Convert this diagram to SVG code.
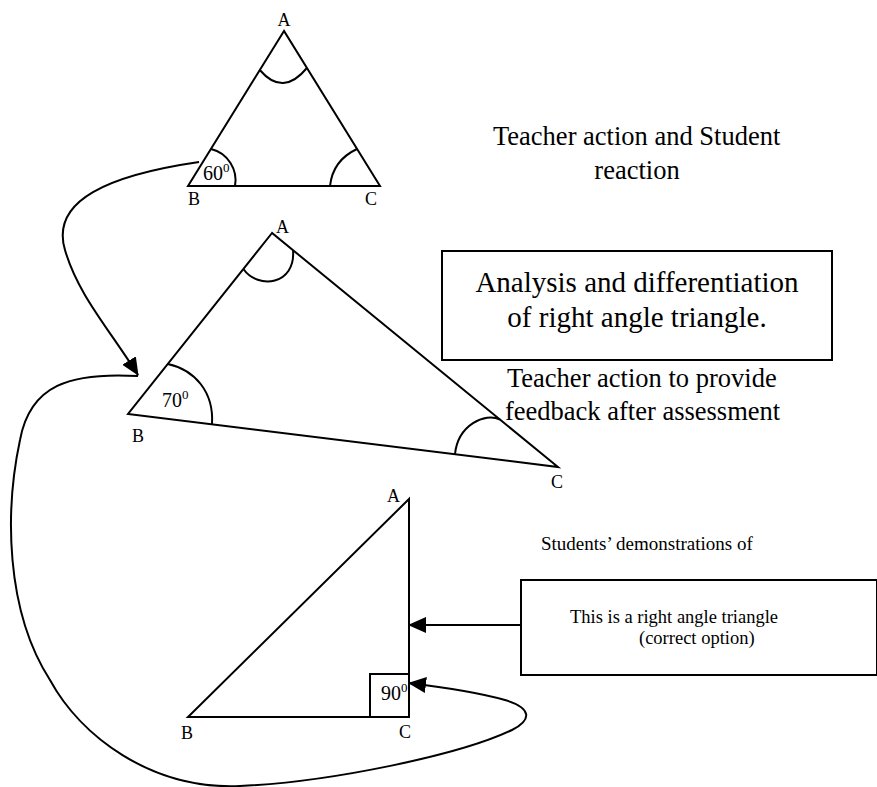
<svg xmlns="http://www.w3.org/2000/svg" width="877" height="787" viewBox="0 0 877 787">
<style>
  .ln{fill:none;stroke:#000;stroke-width:2;stroke-linejoin:miter}
  .arc{fill:none;stroke:#000;stroke-width:2}
  .t{font-family:"Liberation Serif","Times New Roman",serif;fill:#000}
  .lbl{font-size:18px}
  .ang{font-size:20px}
  .sup{font-size:13px}
  .big{font-size:29px}
  .mid{font-size:26.5px}
  .sm{font-size:19px}
  .bx{font-size:18.5px}
  .box{fill:#fff;stroke:#000;stroke-width:2}
  .con{fill:none;stroke:#000;stroke-width:2}
</style>
<defs>
  <marker id="ah" markerUnits="userSpaceOnUse" markerWidth="18" markerHeight="16" viewBox="0 0 18 16" refX="17" refY="8" orient="auto">
    <path d="M0,0 L18,8 L0,16 Z" fill="#000"/>
  </marker>
</defs>
<rect width="877" height="787" fill="#fff"/>

<g id="triangle1">
  <polygon class="ln" points="284,31 188,186 380,186"/>
  <path class="arc" d="M259.8,70 Q283,97 306.9,68"/>
  <path class="arc" d="M211,149 C228,153 238,170 235,186"/>
  <path class="arc" d="M330,186 C332,168 342,156 357,149"/>
  <text class="t lbl" x="284" y="26" text-anchor="middle">A</text>
  <text class="t lbl" x="188" y="205">B</text>
  <text class="t lbl" x="365" y="205">C</text>
  <text class="t ang" x="203" y="180">60<tspan class="sup" dy="-8">0</tspan></text>
</g>

<g id="triangle2">
  <polygon class="ln" points="272,233 128,414 558,467"/>
  <path class="arc" d="M243.4,269 C258,290 296,285 293,250"/>
  <path class="arc" d="M167.8,364 C195,370 214,392 212,424"/>
  <path class="arc" d="M455,454 C458,425 485,412 500,419.5"/>
  <text class="t lbl" x="276" y="233">A</text>
  <text class="t lbl" x="132" y="442">B</text>
  <text class="t lbl" x="551" y="488">C</text>
  <text class="t ang" x="162" y="407">70<tspan class="sup" dy="-8">0</tspan></text>
</g>

<g id="triangle3">
  <polygon class="ln" points="409,499 188,717 409,717"/>
  <rect x="370" y="674" width="39" height="43" class="ln"/>
  <text class="t lbl" x="387" y="502">A</text>
  <text class="t lbl" x="181" y="739">B</text>
  <text class="t lbl" x="399" y="738">C</text>
  <text class="t ang" x="381" y="700">90<tspan class="sup" dy="-8">0</tspan></text>
</g>

<g id="label-teacher-action">
  <text class="t mid" x="493" y="145">Teacher action and Student</text>
  <text class="t mid" x="637" y="179" text-anchor="middle">reaction</text>
</g>

<g id="box-analysis">
  <rect class="box" x="442" y="251" width="390" height="109"/>
  <text class="t big" x="637" y="292" text-anchor="middle">Analysis and differentiation</text>
  <text class="t big" x="637" y="327" text-anchor="middle">of right angle triangle.</text>
</g>

<g id="label-feedback">
  <text class="t mid" x="507" y="387">Teacher action to provide</text>
  <text class="t mid" x="505" y="420">feedback after assessment</text>
</g>

<g id="label-students">
  <text class="t sm" x="541" y="550">Students’ demonstrations of</text>
</g>

<g id="box-correct">
  <rect class="box" x="521" y="580" width="356" height="95"/>
  <text class="t bx" x="570" y="623">This is a right angle triangle</text>
  <text class="t bx" x="639" y="644">(correct option)</text>
</g>

<g id="connectors">
  <path class="con" d="M199,162 C110,175 50,200 65,250 C78,295 110,330 138,375" marker-end="url(#ah)"/>
  <path class="con" d="M138,376 C70,372 30,385 20,440 C5,510 5,610 50,680 C80,735 150,790 240,786 C330,782 460,755 512,730 C532,720 532,708 505,700 C480,693 450,688 409,683" marker-end="url(#ah)"/>
  <path class="con" d="M521,625 L409,625" marker-end="url(#ah)"/>
</g>
</svg>
